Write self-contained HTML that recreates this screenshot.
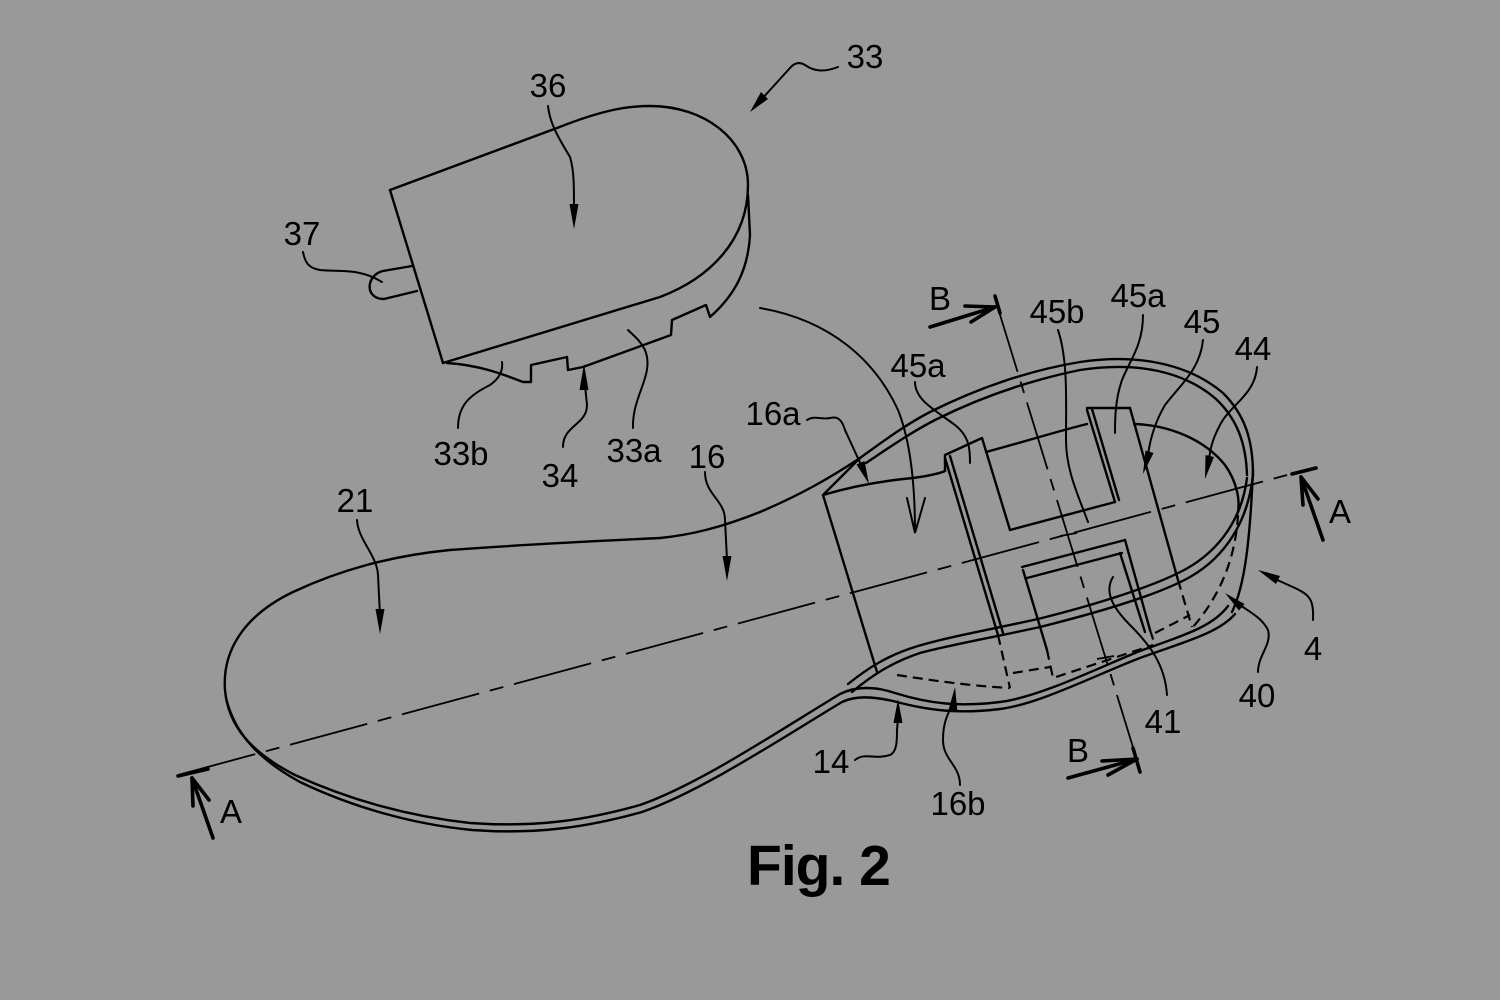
<!DOCTYPE html>
<html><head><meta charset="utf-8"><style>
html,body{margin:0;padding:0;background:#999;}
svg{display:block;}
text{font-family:"Liberation Sans",sans-serif;font-size:33px;fill:#000;text-anchor:middle;}
</style></head><body>
<svg width="1500" height="1000" viewBox="0 0 1500 1000" xmlns="http://www.w3.org/2000/svg">
<rect width="1500" height="1000" fill="#999"/>
<g fill="none" stroke="#000" stroke-width="2.4" stroke-linejoin="round" stroke-linecap="round">
<!-- Heel piece 33 -->
<path d="M390,190 L443,363"/>
<path d="M390,190 L557,128 C600,111 625,106 650,106 C705,106 748,140 748,185 C748,240 710,278 660,297 L443,363"/>
<path d="M748,195 L750,235 C748,270 735,295 710,317 L706,305 L672,320 L671,335 L583,367 L568,370 L567,357 L531,365 L531,382 L523,382 C505,375 480,365 447,363"/>
<path d="M412,266 L383,271 C366,275 364,299 384,299 L417,291"/>

<!-- Sole outline (upper line) -->
<path d="M860,458 C830,478 800,495 760,512 C720,528 690,535 660,538 C600,541 530,544 450,550 C390,556 340,570 293,592 C245,615 222,650 225,690 C228,725 250,752 295,775 C345,798 405,816 470,823 C540,828 590,819 640,805 C700,784 780,730 840,694 C850,689 858,688 866,688"/>
<!-- Sole bottom lower line -->
<path d="M226,698 C235,735 260,760 300,782 C350,806 410,824 472,830 C540,835 592,826 642,812 C702,791 782,738 842,702 C855,696 870,696 893,701 C930,711 960,714 1000,709 C1040,704 1100,673 1140,658 C1180,643 1218,634 1235,614"/>
<path d="M866,688 C878,688 885,690 895,693 C930,704 960,707 1000,702 C1040,697 1100,667 1140,651 C1178,637 1212,628 1228,606"/>
<path d="M1232,612 C1245,585 1250,540 1253,470"/>

<!-- Back rim double -->
<path d="M860,458 C885,440 905,425 930,412 C970,392 1020,372 1080,362 C1140,353 1190,365 1223,393 C1245,415 1253,440 1253,475"/>
<path d="M866,463 C890,447 910,433 935,420 C973,401 1022,382 1080,370 C1138,361 1185,372 1216,399 C1237,419 1246,443 1247,475"/>
<!-- Front rim double -->
<path d="M1253,475 C1248,522 1225,557 1190,577 C1160,594 1100,612 1040,627 C990,638 950,645 920,653 C890,663 870,677 852,692"/>
<path d="M1247,478 C1242,518 1220,550 1186,569 C1155,586 1098,604 1038,619 C988,630 948,637 918,646 C888,655 868,668 848,684"/>

<!-- Insert block left face -->
<path d="M860,458 L823,495 L877,672"/>
<path d="M823,495 C850,487 880,481 913,478 C928,476 938,474 945,471"/>
<!-- left tab -->
<path d="M945,471 L945,455 L982,438 L1010,530"/>
<path d="M945,458 L998,635"/>
<path d="M950,456 L1003,633"/>
<!-- window -->
<path d="M1010,530 L1115,502"/>
<path d="M1115,502 L1087,410"/>
<path d="M1119,500 L1092,409"/>
<path d="M986,452 C1020,443 1055,432 1087,424"/>
<!-- right tab -->
<path d="M1087,408 L1130,408 L1178,580"/>
<path d="M1134,424 C1170,425 1205,440 1225,465 C1237,482 1240,500 1238,512"/>
<!-- lower window -->
<path d="M1022,567 L1125,540"/>
<path d="M1027,578 L1122,553"/>
<path d="M1125,540 L1150,630"/>
<path d="M1120,553 L1145,632"/>
<path d="M1023,570 L1047,650"/>
</g>

<!-- hidden (dashed) lines -->
<g fill="none" stroke="#000" stroke-width="2.2" stroke-dasharray="10 6">
<path d="M998,635 L1010,688"/>
<path d="M897,675 C930,680 970,686 1010,688"/>
<path d="M1013,673 L1050,667"/>
<path d="M1047,650 L1053,678 L1153,645"/>
<path d="M1150,630 L1155,645"/>
<path d="M1155,633 L1190,615"/>
<path d="M1178,580 L1192,627"/>
<path d="M1238,515 C1236,550 1225,590 1193,627"/>
</g>

<!-- center lines -->
<g fill="none" stroke="#000" stroke-width="1.8">
<path d="M178,775 L1313,468" stroke-dasharray="80 11 14 11"/>
<path d="M997,305 L1140,770" stroke-dasharray="70 10 12 10"/>
<path d="M1060,536 L1077,533"/>
<path d="M1097,659 L1114,656"/>
</g>

<!-- leaders -->
<g fill="none" stroke="#000" stroke-width="2" stroke-linecap="round">
<path d="M303,252 C305,262 308,268 320,270 C340,272 360,268 382,282"/>
<path d="M548,106 C550,125 560,140 570,157 C574,170 574,185 574,210"/>
<path d="M838,67 C825,72 815,72 805,65 C800,62 795,62 790,68 L760,101"/>
<path d="M458,428 C458,405 470,395 490,385 C500,378 503,370 502,362"/>
<path d="M563,447 C563,425 587,425 587,405 L585,385"/>
<path d="M633,428 C632,395 655,375 645,350 C640,340 633,335 628,330"/>
<path d="M705,472 C705,495 725,500 725,520 L727,560"/>
<path d="M357,520 C358,540 377,555 378,575 L380,615"/>
<path d="M807,420 C815,415 822,420 830,418 C838,416 842,420 845,430 L862,467"/>
<path d="M760,308 C830,320 875,360 898,410 C910,440 915,480 915,532"/>
<path d="M907,498 L915,533 L925,498"/>
<path d="M915,382 C915,400 935,410 955,425 C970,437 970,450 970,463"/>
<path d="M1058,330 C1068,360 1066,400 1066,440 C1066,470 1078,495 1088,522"/>
<path d="M1143,315 C1143,345 1130,360 1122,380 C1115,400 1115,420 1115,433"/>
<path d="M1203,340 C1200,370 1180,385 1165,405 C1155,422 1150,440 1148,455"/>
<path d="M1257,367 C1255,395 1230,405 1220,425 C1212,440 1210,450 1209,460"/>
<path d="M1313,620 C1314,600 1310,595 1295,588 L1275,579"/>
<path d="M1258,672 C1258,655 1272,645 1268,630 C1262,618 1250,612 1240,605"/>
<path d="M1167,695 C1165,665 1150,645 1130,625 C1110,605 1105,590 1113,577"/>
<path d="M855,760 C865,752 875,760 890,755 C897,752 897,740 897,730 L898,718"/>
<path d="M960,785 C960,765 943,760 943,740 C943,722 948,714 952,705"/>
</g>

<!-- arrowheads -->
<g fill="#000" stroke="none">
<polygon points="574,229 569.5,204 578.5,204"/>
<polygon points="380,634 375.5,609 384.5,609"/>
<polygon points="727,581 722.5,556 731.5,556"/>
<polygon points="750,112 768,99 761,92"/>
<polygon points="584,364 579.5,390 588.5,390"/>
<polygon points="869,484 864.5,461 856.5,464.5"/>
<polygon points="1143,474 1153.5,453 1145.5,450.5"/>
<polygon points="1205,479 1214,457 1205.5,455"/>
<polygon points="1258,570 1280,576 1276,584"/>
<polygon points="1225,593 1244.5,604 1239,610.5"/>
<polygon points="898,699 893.5,723 902.5,723"/>
<polygon points="955,687 948.5,710 957.5,712"/>
</g>

<!-- section arrows -->
<g fill="none" stroke="#000" stroke-width="3.6" stroke-linecap="round" stroke-linejoin="round">
<path d="M178,776 L208,769"/>
<path d="M213,838 L192,778"/>
<path d="M192,778 L193,806 M192,778 L209,800"/>
<path d="M1292,474 L1316,468"/>
<path d="M1323,540 L1301,477"/>
<path d="M1301,477 L1303,505 M1301,477 L1318,499"/>
<path d="M995,296 L1000,313"/>
<path d="M930,327 L995,307"/>
<path d="M995,307 L965,306 M995,307 L971,322"/>
<path d="M1133,748 L1140,772"/>
<path d="M1068,778 L1137,759"/>
<path d="M1137,759 L1102,761 M1137,759 L1108,775"/>
</g>

<!-- labels -->
<text x="865" y="68">33</text>
<text x="548" y="97">36</text>
<text x="302" y="245">37</text>
<text x="461" y="465">33b</text>
<text x="560" y="487">34</text>
<text x="634" y="462">33a</text>
<text x="707" y="468">16</text>
<text x="355" y="512">21</text>
<text x="773" y="425">16a</text>
<text x="918" y="377">45a</text>
<text x="940" y="310">B</text>
<text x="1057" y="323">45b</text>
<text x="1138" y="307">45a</text>
<text x="1202" y="333">45</text>
<text x="1253" y="360">44</text>
<text x="1340" y="523">A</text>
<text x="1313" y="660">4</text>
<text x="1257" y="707">40</text>
<text x="1163" y="733">41</text>
<text x="1078" y="762">B</text>
<text x="831" y="773">14</text>
<text x="958" y="815">16b</text>
<text x="231" y="823">A</text>
<text x="747" y="885" style="font-size:57px;font-weight:bold;text-anchor:start;letter-spacing:-1px">Fig. 2</text>
</svg>
</body></html>
